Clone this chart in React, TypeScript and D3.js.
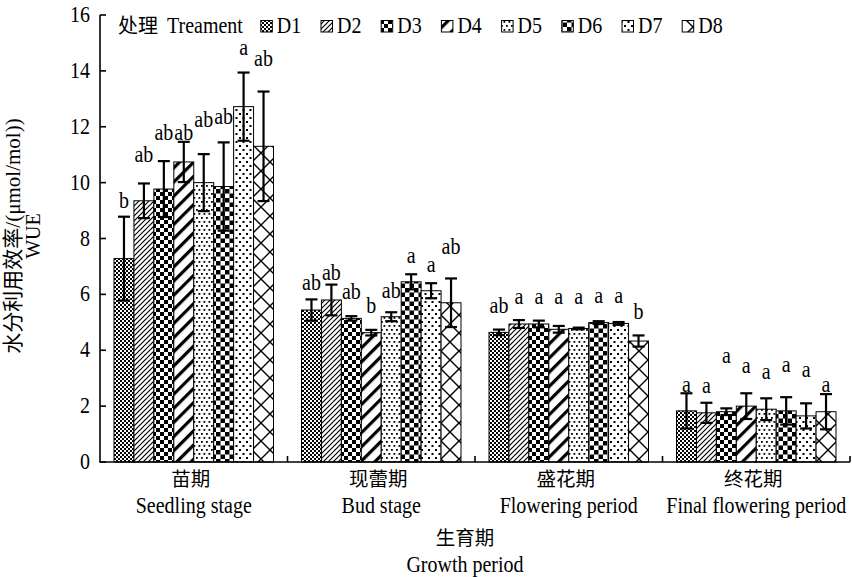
import React from 'react';
import * as d3 from 'd3';

// ---------- data ----------
const categoriesCN = ['苗期', '现蕾期', '盛花期', '终花期'];
const categoriesEN = ['Seedling stage', 'Bud stage', 'Flowering period', 'Final flowering period'];
const treatments = ['D1', 'D2', 'D3', 'D4', 'D5', 'D6', 'D7', 'D8'];

const seedlingWUE = [7.28, 9.35, 9.77, 10.74, 10.0, 9.86, 12.72, 11.3];
const seedlingSE = [1.5, 0.62, 1.0, 0.72, 1.02, 1.58, 1.22, 1.96];
const seedlingSig = ['b', 'ab', 'ab', 'ab', 'ab', 'ab', 'a', 'ab'];
const seedlingSigLevel = [9.27, 10.92, 11.7, 11.7, 12.18, 12.28, 14.75, 14.35];

const budWUE = [5.44, 5.8, 5.14, 4.63, 5.2, 6.45, 6.13, 5.7];
const budSE = [0.38, 0.55, 0.08, 0.1, 0.16, 0.27, 0.27, 0.87];
const budSig = ['ab', 'ab', 'ab', 'b', 'ab', 'a', 'a', 'ab'];
const budSigLevel = [6.33, 6.69, 6.01, 5.51, 6.05, 7.3, 6.98, 7.63];

const floweringWUE = [4.64, 4.94, 4.94, 4.75, 4.78, 4.99, 4.96, 4.33];
const floweringSE = [0.1, 0.14, 0.12, 0.12, 0.03, 0.05, 0.05, 0.2];
const floweringSig = ['ab', 'a', 'a', 'a', 'a', 'a', 'a', 'b'];
const floweringSigLevel = [5.51, 5.85, 5.85, 5.85, 5.85, 5.87, 5.87, 5.28];

const finalWUE = [1.83, 1.76, 1.8, 2.0, 1.89, 1.83, 1.65, 1.8];
const finalSE = [0.63, 0.36, 0.12, 0.46, 0.39, 0.49, 0.45, 0.63];
const finalSig = ['a', 'a', 'a', 'a', 'a', 'a', 'a', 'a'];
const finalSigLevel = [2.7, 2.65, 3.72, 3.36, 3.16, 3.4, 3.22, 2.7];

const yTicks = [0, 2, 4, 6, 8, 10, 12, 14, 16];

const groups = [
  { values: seedlingWUE, se: seedlingSE, sig: seedlingSig, level: seedlingSigLevel },
  { values: budWUE, se: budSE, sig: budSig, level: budSigLevel },
  { values: floweringWUE, se: floweringSE, sig: floweringSig, level: floweringSigLevel },
  { values: finalWUE, se: finalSE, sig: finalSig, level: finalSigLevel },
];

// ---------- layout ----------
const W = 852;
const H = 577;
const SERIF = "'Liberation Serif', 'Times New Roman', serif";
const CJK = "'Noto Sans CJK SC', 'Liberation Serif', sans-serif";
const MIXED = "'Liberation Serif', 'Noto Sans CJK SC', serif";
const SY = 1.12;

const x0 = d3.scaleBand<string>().domain(categoriesCN).range([100, 850]);
const x1 = d3.scaleBand<string>().domain(treatments).range([14, 173.5]);
const y = d3.scaleLinear().domain([0, 16]).range([462, 15]);

function LT({ x, y: yy, children, anchor = 'middle', size = 20, sy = SY }: any) {
  return (
    <text
      transform={`translate(${x},${yy}) scale(1,${sy})`}
      textAnchor={anchor}
      fontSize={size}
      fontFamily={SERIF}
      fill="#000"
    >
      {children}
    </text>
  );
}

function Patterns() {
  return (
    <defs>
      <pattern id="pD1" patternUnits="userSpaceOnUse" width={4} height={4}>
        <rect width={4} height={4} fill="#fff" />
        <rect x={0} y={0} width={2} height={2} fill="#000" />
        <rect x={2} y={2} width={2} height={2} fill="#000" />
      </pattern>
      <pattern id="pD2" patternUnits="userSpaceOnUse" width={5} height={5}>
        <rect width={5} height={5} fill="#fff" />
        <path d="M0,5 L5,0 M-1,1 L1,-1 M4,6 L6,4" stroke="#000" strokeWidth={1.2} />
      </pattern>
      <pattern id="pD3" patternUnits="userSpaceOnUse" width={8} height={8}>
        <rect width={8} height={8} fill="#fff" />
        <rect x={0} y={0} width={4} height={4} fill="#000" />
        <rect x={4} y={4} width={4} height={4} fill="#000" />
      </pattern>
      <pattern id="pD4" patternUnits="userSpaceOnUse" width={10} height={10} patternTransform="rotate(45)">
        <rect width={10} height={10} fill="#fff" />
        <rect x={0} y={0} width={3.2} height={10} fill="#000" />
      </pattern>
      <pattern id="pD5" patternUnits="userSpaceOnUse" width={5} height={8}>
        <rect width={5} height={8} fill="#fff" />
        <rect x={1} y={1} width={1.8} height={1.8} fill="#000" />
        <rect x={3.5} y={5} width={1.8} height={1.8} fill="#000" />
        <rect x={-1.5} y={5} width={1.8} height={1.8} fill="#000" />
      </pattern>
      <pattern id="pD6" patternUnits="userSpaceOnUse" width={9} height={9}>
        <rect width={9} height={9} fill="#fff" />
        <rect x={0} y={0} width={4.5} height={4.5} fill="#000" />
        <rect x={4.5} y={4.5} width={4.5} height={4.5} fill="#000" />
      </pattern>
      <pattern id="pD7" patternUnits="userSpaceOnUse" width={7} height={8}>
        <rect width={7} height={8} fill="#fff" />
        <rect x={1} y={1} width={2} height={2} fill="#000" />
        <rect x={4.5} y={5} width={2} height={2} fill="#000" />
      </pattern>
      <pattern id="pD8" patternUnits="userSpaceOnUse" width={18} height={18}>
        <rect width={18} height={18} fill="#fff" />
        <path d="M0,0 L18,18 M18,0 L0,18" stroke="#000" strokeWidth={1.4} />
      </pattern>
    </defs>
  );
}

export default function App() {
  const bw = x1.bandwidth();
  const legendStart = 260.8;
  const legendStep = 60.2;
  return (
    <svg
      width={W}
      height={H}
      viewBox={`0 0 ${W} ${H}`}
      style={{ position: 'absolute', left: 0, top: 0, background: '#fff' }}
    >
      <Patterns />
      <rect width={W} height={H} fill="#fff" />

      {/* significance letters (drawn first, bars overlay them) */}
      {groups.map((g, gi) =>
        treatments.map((t, i) => (
          <LT key={`s${gi}${i}`} x={(x0(categoriesCN[gi]) as number) + (x1(t) as number) + bw / 2} y={y(g.level[i]) + 5}>
            {g.sig[i]}
          </LT>
        ))
      )}

      {/* bars */}
      {groups.map((g, gi) =>
        treatments.map((t, i) => (
          <rect
            key={`b${gi}${i}`}
            x={(x0(categoriesCN[gi]) as number) + (x1(t) as number)}
            y={y(g.values[i])}
            width={bw}
            height={y(0) - y(g.values[i])}
            fill={`url(#p${t})`}
            stroke="#000"
            strokeWidth={1}
          />
        ))
      )}

      {/* error bars */}
      {groups.map((g, gi) =>
        treatments.map((t, i) => {
          const cx = (x0(categoriesCN[gi]) as number) + (x1(t) as number) + bw / 2;
          const yt = y(g.values[i] + g.se[i]);
          const yb = y(g.values[i] - g.se[i]);
          return (
            <g key={`e${gi}${i}`} stroke="#000" strokeWidth={2.2}>
              <line x1={cx} x2={cx} y1={yt} y2={yb} />
              <line x1={cx - 6} x2={cx + 6} y1={yt} y2={yt} />
              <line x1={cx - 6} x2={cx + 6} y1={yb} y2={yb} />
            </g>
          );
        })
      )}

      {/* y axis */}
      <line x1={100} x2={100} y1={y(16)} y2={y(0)} stroke="#000" strokeWidth={1.6} />
      {yTicks.map((v) => (
        <g key={`yt${v}`}>
          <line x1={100} x2={106} y1={y(v)} y2={y(v)} stroke="#000" strokeWidth={1.6} />
          <LT x={90} y={y(v) + 7} anchor="end" size={20} sy={1.2}>
            {v}
          </LT>
        </g>
      ))}

      {/* x axis */}
      <line x1={99.2} x2={850} y1={y(0)} y2={y(0)} stroke="#000" strokeWidth={1.6} />
      {categoriesCN.map((c) => (
        <line
          key={`xt${c}`}
          x1={(x0(c) as number) + x0.bandwidth()}
          x2={(x0(c) as number) + x0.bandwidth()}
          y1={y(0)}
          y2={y(0) - 6}
          stroke="#000"
          strokeWidth={1.6}
        />
      ))}
      {categoriesCN.map((c, i) => {
        const cx = (x0(c) as number) + x0.bandwidth() / 2;
        return (
          <g key={`xl${c}`}>
            <text x={cx - 3} y={486} textAnchor="middle" fontSize={19.5} fontFamily={CJK} fill="#000">
              {c}
            </text>
            <LT x={cx} y={512.5}>
              {categoriesEN[i]}
            </LT>
          </g>
        );
      })}

      {/* axis titles */}
      <text x={465} y={545} textAnchor="middle" fontSize={19.5} fontFamily={CJK} fill="#000">
        生育期
      </text>
      <LT x={465} y={572}>
        Growth period
      </LT>
      <text
        transform="translate(19.5,236) rotate(-90)"
        textAnchor="middle"
        fontSize={21}
        fontFamily={MIXED}
        fill="#000"
      >
        水分利用效率/(μmol/mol))
      </text>
      <g transform="translate(40,236) rotate(-90)">
        <LT x={0} y={0} size={20} sy={1}>
          WUE
        </LT>
      </g>

      {/* legend */}
      <text x={118} y={33} fontSize={20} fontFamily={CJK} fill="#000">
        处理
      </text>
      <LT x={167} y={33} anchor="start">
        Treament
      </LT>
      {treatments.map((t, i) => {
        const lx = legendStart + i * legendStep;
        return (
          <g key={`lg${t}`}>
            <rect x={lx} y={20.5} width={11.5} height={11.5} fill={`url(#p${t})`} stroke="#000" strokeWidth={1} />
            <LT x={lx + 16} y={33} anchor="start">
              {t}
            </LT>
          </g>
        );
      })}
    </svg>
  );
}
